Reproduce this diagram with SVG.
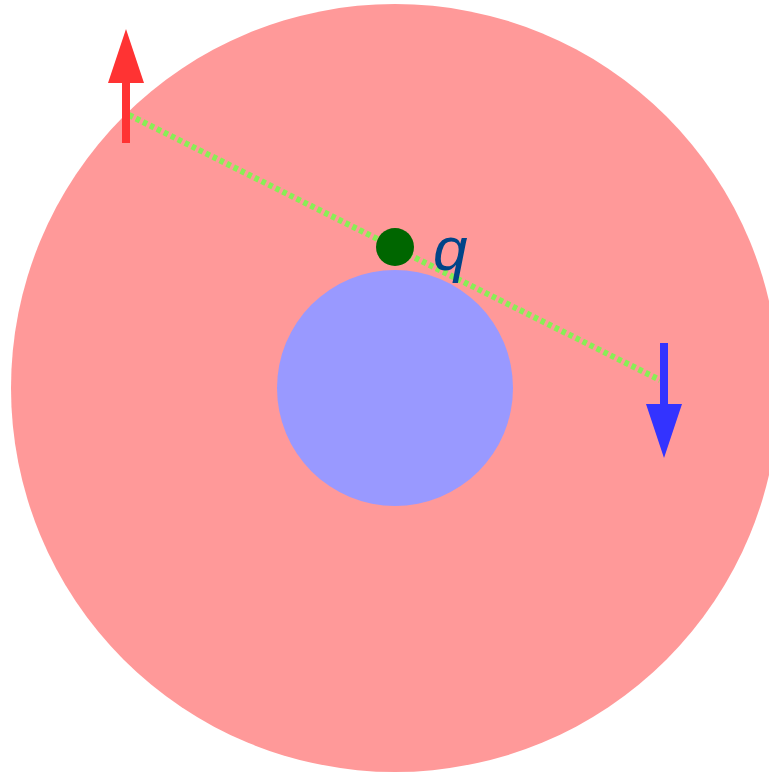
<svg xmlns="http://www.w3.org/2000/svg" width="769" height="773" viewBox="0 0 769 773">
<style>
.arrow-shaft{stroke-width:8;fill:none}
.dots{stroke:#88ee55;stroke-width:6;stroke-dasharray:4.5 3.3;fill:none}
</style>
<rect width="769" height="773" fill="#ffffff"/>
<g id="outer"><circle cx="395" cy="388" r="384" fill="#ff9999"/></g>
<g id="inner"><circle cx="395" cy="388" r="118" fill="#9999ff"/></g>
<g id="connectors">
<line class="dots" x1="129" y1="115" x2="660" y2="380"/>
<g id="red-arrow">
<line class="arrow-shaft" stroke="#ff3333" x1="126" y1="143" x2="126" y2="80"/>
<polygon points="108,83 144,83 126,29" fill="#ff3333"/>
</g>
<g id="blue-arrow">
<line class="arrow-shaft" stroke="#3333ff" x1="664" y1="343" x2="664" y2="406"/>
<polygon points="646,404 682,404 664,458" fill="#3333ff"/>
</g>
</g>
<g id="charge">
<circle cx="395" cy="247" r="19" fill="#006600"/>
<text x="433" y="270" font-family="Liberation Sans, sans-serif" font-style="italic" font-size="62" fill="#004488">q</text>
</g>
</svg>
